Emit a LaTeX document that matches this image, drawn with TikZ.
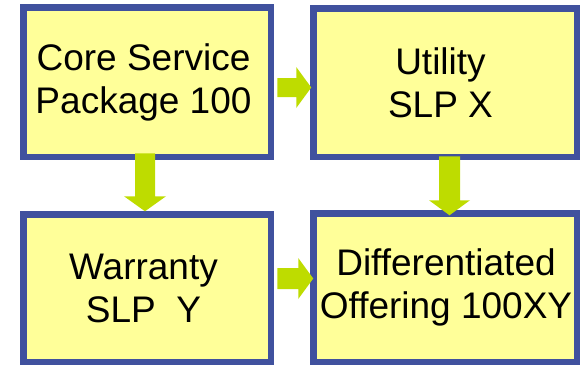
\documentclass[tikz,border=0pt]{standalone}
\usepackage{fontspec}
\setmainfont{Liberation Sans}
\usetikzlibrary{calc}

\definecolor{boxfill}{RGB}{255,255,153}
\definecolor{boxedge}{RGB}{64,81,158}
\definecolor{flowgreen}{RGB}{190,220,0}

\tikzset{
  stage/.style={draw=boxedge, fill=boxfill, line width=6.5pt,
    rectangle, inner sep=0pt},
  caption/.style={align=center, text=black, inner sep=0pt,
    font=\fontsize{37}{43}\selectfont},
  flow/.style={fill=flowgreen}
}

\begin{document}
\begin{tikzpicture}[x=1pt, y=-1pt]
  \useasboundingbox (0,0) rectangle (581,365);

  % the four stages, each with its centred two-line caption
  \node[stage, minimum width=247.5pt, minimum height=149.5pt,
    label={[caption, xshift=-3.5pt]center:Core Service\\Package 100}] (core) at (147,82) {};
  \node[stage, minimum width=263.5pt, minimum height=148.5pt,
    label={[caption, xshift=-4.5pt]center:Utility\\SLP X}] (util) at (445,82.5) {};
  \node[stage, minimum width=247.5pt, minimum height=147.5pt,
    label={[caption, xshift=-3.5pt]center:Warranty\\SLP\ \ Y}] (warr) at (147,288) {};
  \node[stage, minimum width=263.5pt, minimum height=148.5pt,
    label={[caption, xshift=1pt]center:Differentiated\\Offering 100XY}] (diff) at (445,287.5) {};

  % block arrows between the stages
  \fill[flow] ($(core.east)+(3.25,-4)$) -- ++(19,0) -- ++(0,-11) -- ++(15,20.5)
    -- ++(-15,20.5) -- ++(0,-11) -- ++(-19,0) -- cycle;
  \fill[flow] ($(warr.east)+(3.25,-20)$) -- ++(21,0) -- ++(0,-10) -- ++(15,20.5)
    -- ++(-15,20.5) -- ++(0,-10) -- ++(-21,0) -- cycle;
  \fill[flow] ($(core.south)+(-12,-6.75)$) -- ++(20,0) -- ++(0,43) -- ++(11,0)
    -- ++(-21,15) -- ++(-21,-15) -- ++(11,0) -- cycle;
  \fill[flow] ($(util.south)+(-6,-3.75)$) -- ++(21,0) -- ++(0,44) -- ++(10,0)
    -- ++(-20.5,15) -- ++(-20.5,-15) -- ++(10,0) -- cycle;
\end{tikzpicture}
\end{document}
